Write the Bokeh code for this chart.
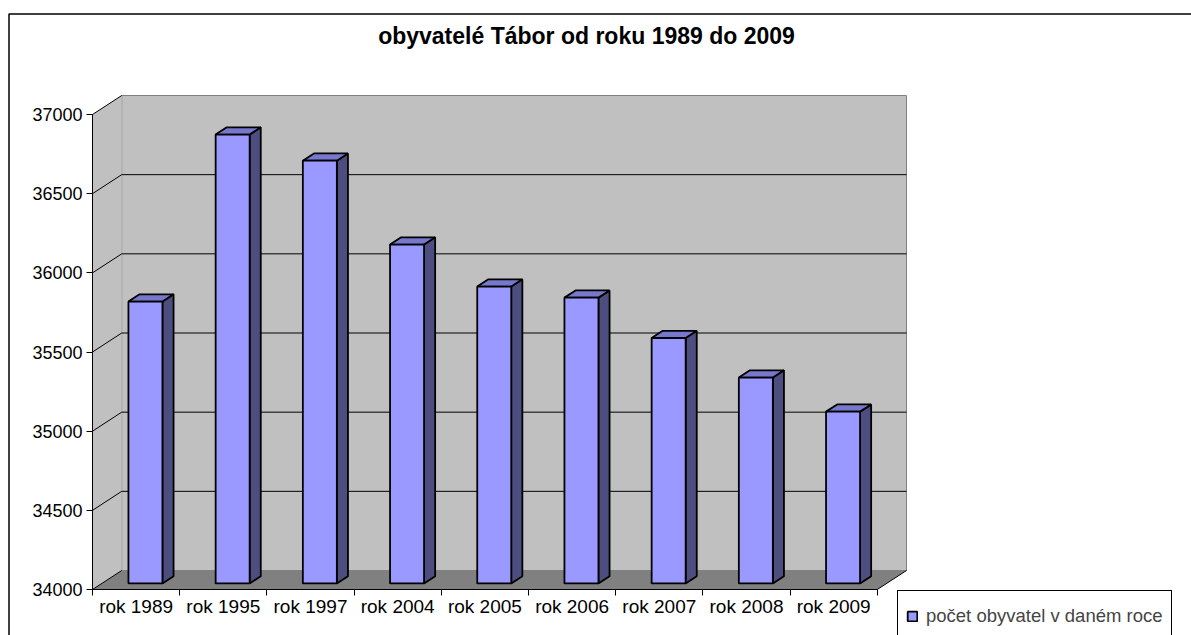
from bokeh.plotting import figure
from bokeh.models import (Range1d, FixedTicker, Label, Legend, LegendItem,
                          BoxAnnotation, ColumnDataSource, LinearAxis)
from bokeh.embed import file_html
from bokeh.resources import INLINE

# ---------------- data ----------------
categories = ["rok 1989", "rok 1995", "rok 1997", "rok 2004", "rok 2005",
              "rok 2006", "rok 2007", "rok 2008", "rok 2009"]
population = [35780, 36835, 36670, 36140, 35875, 35805, 35550, 35300, 35085]
y_ticks = [34000, 34500, 35000, 35500, 36000, 36500, 37000]
title_text = "obyvatelé Tábor od roku 1989 do 2009"
series_name = "počet obyvatel v daném roce"

# ---------------- geometry (3-D look) ----------------
N = len(categories)
Y_BASE, Y_TOP = y_ticks[0], y_ticks[-1]
DEPTH_X = 0.335      # depth offset in category units
DEPTH_Y = 120        # depth offset in value units
F0, F1 = 0.32, 0.70  # bar front / back position inside the depth
HALF_W = 0.195       # half bar width (category units)

W, H = 1191, 635
X0_PX = 92                  # page x of category 0 (front plane)
CAT_PX = 87.2               # pixels per category
YB_PX = 589                 # page y of the base value (front plane)
UNIT_PX = 475.0 / (Y_TOP - Y_BASE)   # pixels per value unit


def x_at(px):
    return (px - X0_PX) / CAT_PX


def y_at(py):
    return Y_BASE + (YB_PX - py) / UNIT_PX


FONT = "Liberation Sans"

p = figure(width=W, height=H, output_backend="svg", toolbar_location=None,
           x_range=Range1d(x_at(0), x_at(W)), y_range=Range1d(y_at(H), y_at(0)),
           title=None, x_axis_type=None, y_axis_type=None)
p.min_border_left = 0
p.min_border_right = 0
p.min_border_top = 0
p.min_border_bottom = 0
p.outline_line_color = None
p.background_fill_color = "white"
p.border_fill_color = "white"

WALL = "#C0C0C0"
FLOOR = "#808080"
EDGE = "#808080"

# back wall
p.quad(left=[DEPTH_X], right=[N + DEPTH_X], bottom=[Y_BASE + DEPTH_Y], top=[Y_TOP + DEPTH_Y],
       fill_color=WALL, line_color=EDGE, line_width=1)
# side wall
p.patch([0, 0, DEPTH_X, DEPTH_X], [Y_BASE, Y_TOP, Y_TOP + DEPTH_Y, Y_BASE + DEPTH_Y],
        fill_color=WALL, line_color=None)
# floor
p.patch([0, N, N + DEPTH_X, DEPTH_X], [Y_BASE, Y_BASE, Y_BASE + DEPTH_Y, Y_BASE + DEPTH_Y],
        fill_color=FLOOR, line_color=None)
p.segment(x0=[DEPTH_X], y0=[Y_BASE + DEPTH_Y], x1=[N + DEPTH_X], y1=[Y_BASE + DEPTH_Y],
          line_color=EDGE, line_width=1)
p.segment(x0=[N], y0=[Y_BASE], x1=[N + DEPTH_X], y1=[Y_BASE + DEPTH_Y],
          line_color="black", line_width=1)

# gridlines on back wall + diagonals on side wall
inner = y_ticks[1:-1]
p.segment(x0=[DEPTH_X] * len(inner), y0=[t + DEPTH_Y for t in inner],
          x1=[N + DEPTH_X] * len(inner), y1=[t + DEPTH_Y for t in inner],
          line_color="black", line_width=1)
p.segment(x0=[0] * len(y_ticks), y0=y_ticks,
          x1=[DEPTH_X] * len(y_ticks), y1=[t + DEPTH_Y for t in y_ticks],
          line_color="black", line_width=1)

# bars
centers = [i + 0.5 for i in range(N)]
left = [c + F0 * DEPTH_X - HALF_W for c in centers]
right = [c + F0 * DEPTH_X + HALF_W for c in centers]
dd_x = (F1 - F0) * DEPTH_X
dd_y = (F1 - F0) * DEPTH_Y
front_bottom = [Y_BASE + F0 * DEPTH_Y] * N
front_top = [v + F0 * DEPTH_Y for v in population]

side_xs = [[r, r, r + dd_x, r + dd_x] for r in right]
side_ys = [[b, t, t + dd_y, b + dd_y] for b, t in zip(front_bottom, front_top)]
top_xs = [[l, r, r + dd_x, l + dd_x] for l, r in zip(left, right)]
top_ys = [[t, t, t + dd_y, t + dd_y] for t in front_top]

BAR_LINE = 1.8
p.patches(side_xs, side_ys, fill_color="#4D4D80", line_color="black", line_width=BAR_LINE)
p.patches(top_xs, top_ys, fill_color="#7777CC", line_color="black", line_width=BAR_LINE)
src = ColumnDataSource(dict(left=left, right=right, bottom=front_bottom, top=front_top,
                            cat=categories, val=population))
front = p.quad(left="left", right="right", bottom="bottom", top="top", source=src,
               fill_color="#9999FF", line_color="black", line_width=BAR_LINE)

# axes (drawn at the front plane)
ya = LinearAxis(fixed_location=0)
ya.ticker = FixedTicker(ticks=y_ticks)
ya.bounds = (Y_BASE, Y_TOP)
ya.major_tick_out = 6
ya.major_tick_in = 0
ya.minor_tick_out = 0
ya.minor_tick_in = 0
ya.major_label_standoff = 4
ya.axis_line_color = "black"
ya.major_tick_line_color = "black"
ya.major_label_text_font = FONT
ya.major_label_text_font_size = "18px"
ya.major_label_text_color = "black"
p.add_layout(ya, "left")

xa = LinearAxis(fixed_location=Y_BASE)
xa.ticker = FixedTicker(ticks=centers, minor_ticks=list(range(N + 1)))
xa.major_label_overrides = {c: lab for c, lab in zip(centers, categories)}
xa.bounds = (0, N)
xa.major_tick_out = 0
xa.major_tick_in = 0
xa.minor_tick_out = 6
xa.minor_tick_in = 0
xa.minor_tick_line_color = "black"
xa.major_label_standoff = 0
xa.axis_line_color = "black"
xa.major_label_text_font = FONT
xa.major_label_text_font_size = "19px"
xa.major_label_text_color = "black"
p.add_layout(xa, "below")

# title
p.add_layout(Label(x=x_at(586), y=y_at(35), text=title_text, text_align="center",
                   text_baseline="alphabetic", text_font=FONT, text_font_style="bold",
                   text_font_size="23px", text_color="black"))

# outer chart border (left and top visible)
p.add_layout(BoxAnnotation(left=x_at(8.5), right=x_at(1400), top=y_at(13.5), bottom=y_at(800),
                           fill_alpha=0, fill_color=None, line_color="black",
                           line_alpha=1, line_width=1.5))

# legend
legend = Legend(items=[LegendItem(label=series_name, renderers=[front])],
                location=(897, -7),
                label_text_font=FONT, label_text_font_size="18.5px",
                glyph_width=12, glyph_height=12, label_height=34,
                padding=8, margin=0, spacing=0, label_standoff=8,
                border_line_color="black", border_line_alpha=1, border_line_width=1,
                background_fill_color="white", background_fill_alpha=1)
p.add_layout(legend)

open("out.html", "w").write(file_html(p, INLINE))
